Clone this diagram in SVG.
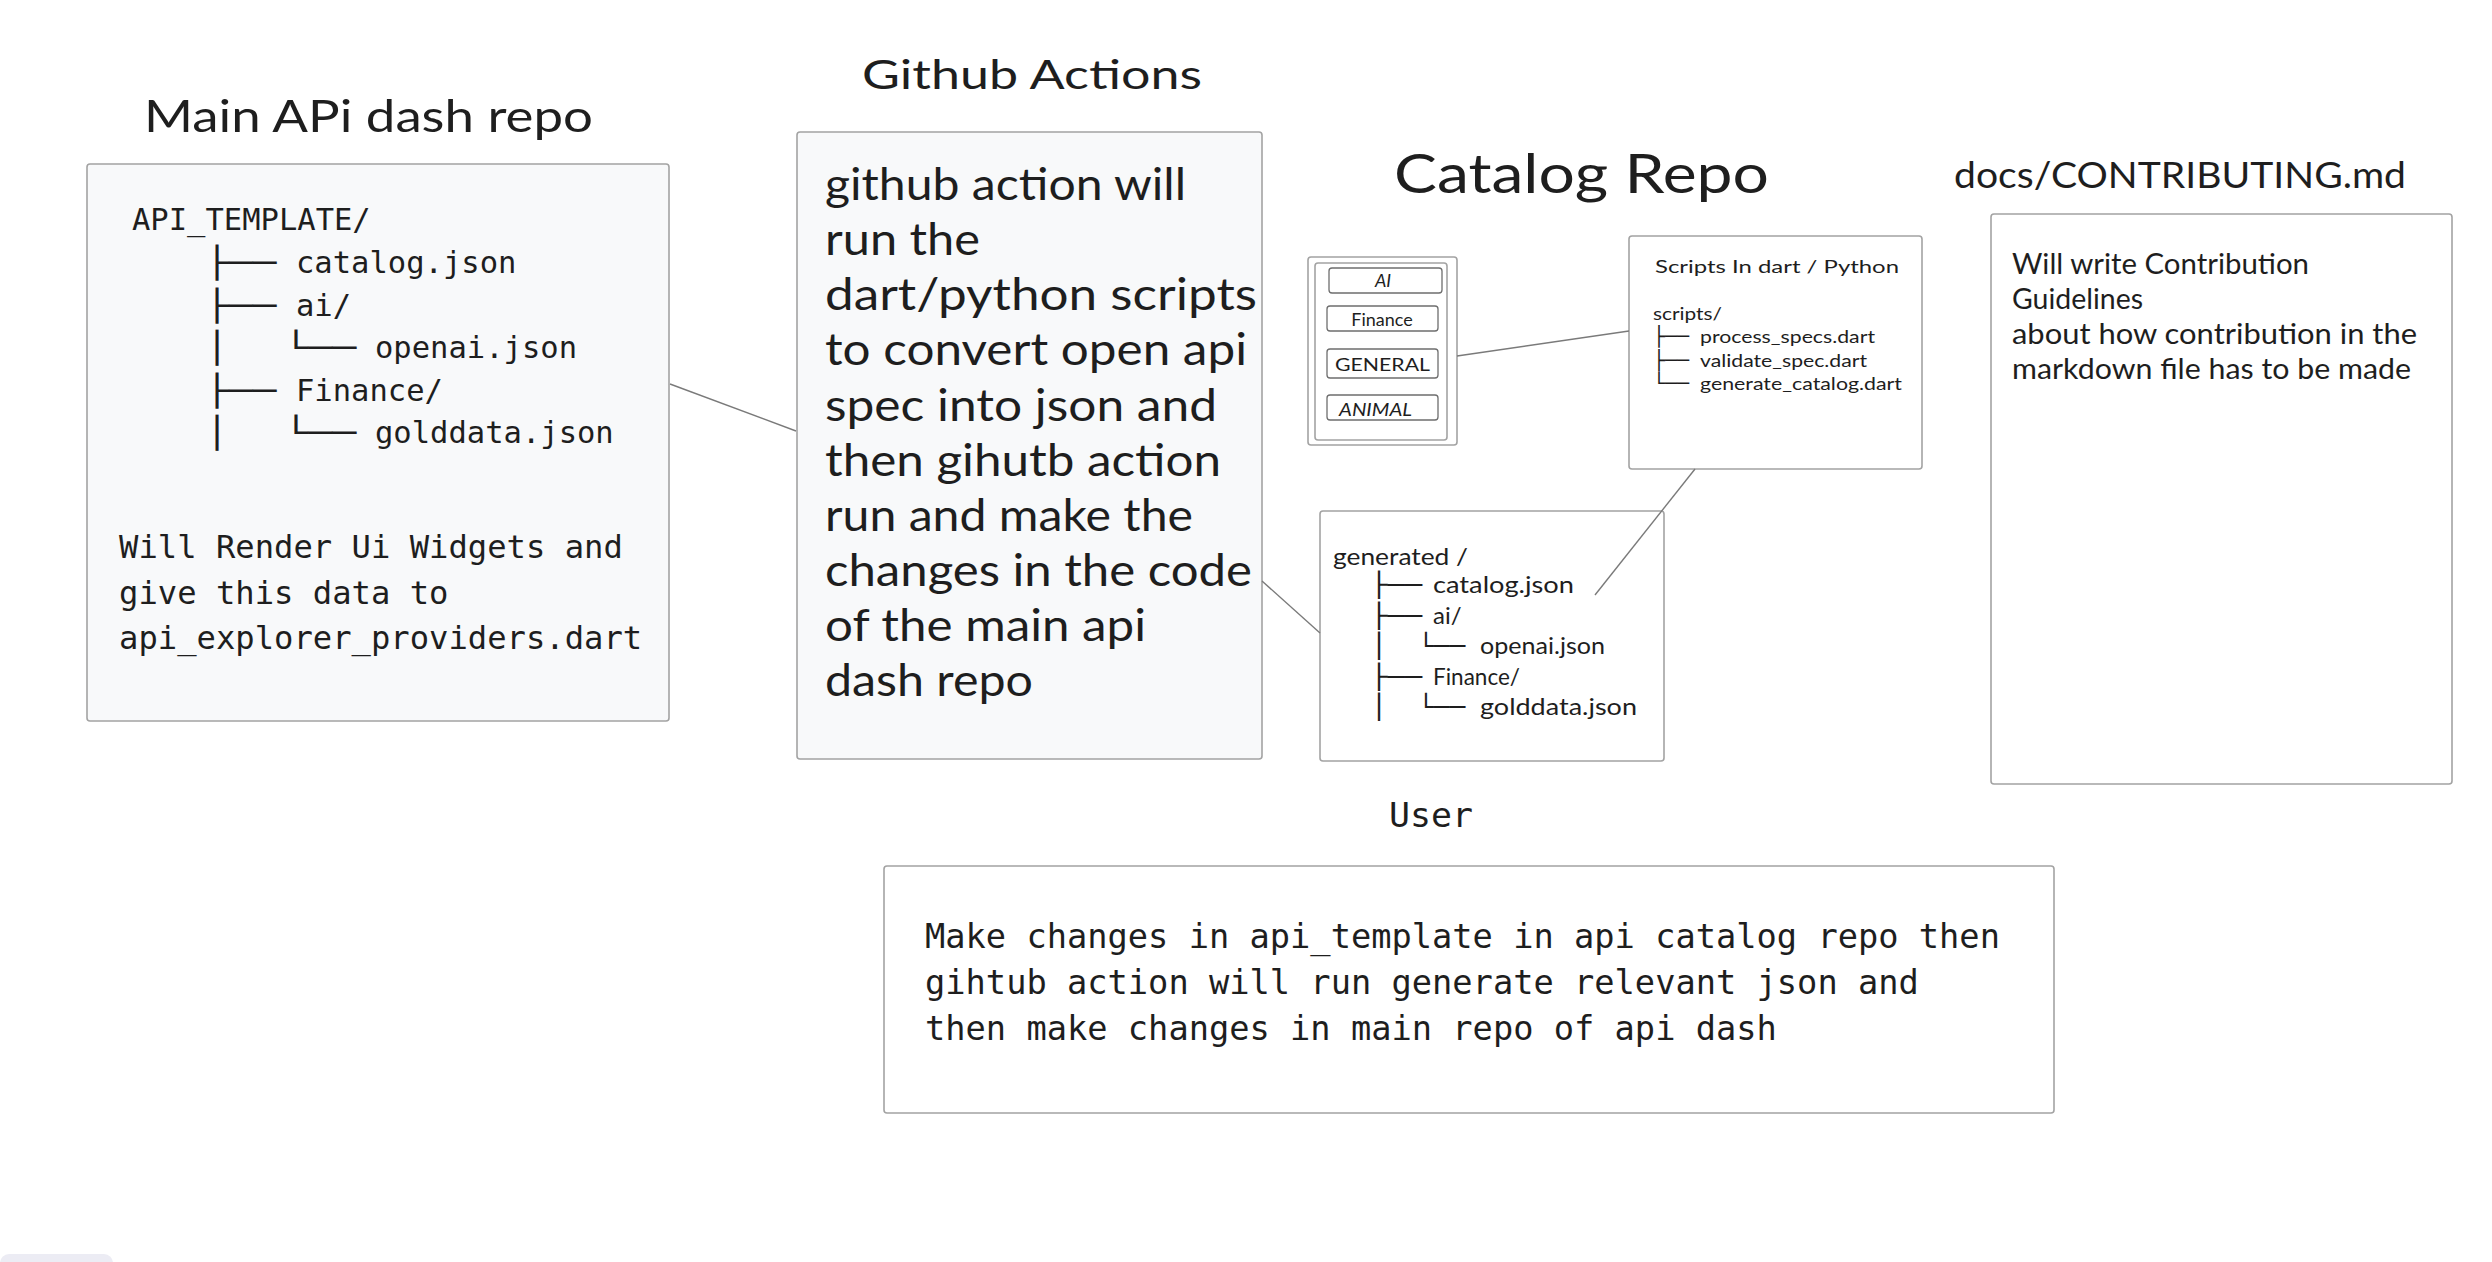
<svg xmlns="http://www.w3.org/2000/svg" width="2492" height="1262" viewBox="0 0 2492 1262">
<style>
.hand{font-family:Lato,"Open Sans","Liberation Sans",sans-serif;fill:#1e1e1e}
.mono{font-family:"DejaVu Sans Mono","Liberation Mono",monospace;fill:#1e1e1e}
.box{fill:#ffffff;stroke:#a3a3a3;stroke-width:1.6}
.gbox{fill:#f8f9fa;stroke:#a3a3a3;stroke-width:1.6}
.item{fill:#ffffff;stroke:#6e6e6e;stroke-width:1.3}
.conn{stroke:#7a7a7a;stroke-width:1.4;fill:none}
</style>
<rect width="2492" height="1262" fill="#ffffff"/>

<g id="main-repo">
<text class="hand" x="144" y="132" font-size="44" textLength="449" lengthAdjust="spacingAndGlyphs">Main APi dash repo</text>
<rect class="gbox" x="87" y="164" width="582" height="557" rx="3"/>
<text class="mono" x="132" y="230" font-size="30.5">API_TEMPLATE/</text>
<text class="mono" y="273" font-size="30.5"><tspan x="205.2" textLength="70.8" lengthAdjust="spacingAndGlyphs">├──</tspan><tspan x="296">catalog.json</tspan></text>
<text class="mono" y="315.5" font-size="30.5"><tspan x="205.2" textLength="70.8" lengthAdjust="spacingAndGlyphs">├──</tspan><tspan x="296">ai/</tspan></text>
<text class="mono" y="358" font-size="30.5"><tspan x="205.2" textLength="23.6" lengthAdjust="spacingAndGlyphs">│</tspan><tspan x="284" textLength="72" lengthAdjust="spacingAndGlyphs">└──</tspan><tspan x="375">openai.json</tspan></text>
<text class="mono" y="400.5" font-size="30.5"><tspan x="205.2" textLength="70.8" lengthAdjust="spacingAndGlyphs">├──</tspan><tspan x="296">Finance/</tspan></text>
<text class="mono" y="443" font-size="30.5"><tspan x="205.2" textLength="23.6" lengthAdjust="spacingAndGlyphs">│</tspan><tspan x="284" textLength="72" lengthAdjust="spacingAndGlyphs">└──</tspan><tspan x="375">golddata.json</tspan></text>
<text class="mono" x="119" y="558" font-size="32.2">Will Render Ui Widgets and</text>
<text class="mono" x="119" y="603.5" font-size="32.2">give this data to</text>
<text class="mono" x="119" y="649" font-size="32.2">api_explorer_providers.dart</text>
</g>

<g id="github-actions">
<text class="hand" x="862" y="89" font-size="40" textLength="340" lengthAdjust="spacingAndGlyphs">Github Actions</text>
<rect class="gbox" x="797" y="132" width="465" height="627" rx="3"/>
<g class="hand" font-size="44">
<text x="825" y="200" textLength="361" lengthAdjust="spacingAndGlyphs">github action will</text>
<text x="825" y="255" textLength="155" lengthAdjust="spacingAndGlyphs">run the</text>
<text x="825" y="310" textLength="432" lengthAdjust="spacingAndGlyphs">dart/python scripts</text>
<text x="825" y="365" textLength="422" lengthAdjust="spacingAndGlyphs">to convert open api</text>
<text x="825" y="420.5" textLength="392" lengthAdjust="spacingAndGlyphs">spec into json and</text>
<text x="825" y="475.5" textLength="396" lengthAdjust="spacingAndGlyphs">then gihutb action</text>
<text x="825" y="531" textLength="368" lengthAdjust="spacingAndGlyphs">run and make the</text>
<text x="825" y="586" textLength="427" lengthAdjust="spacingAndGlyphs">changes in the code</text>
<text x="825" y="641" textLength="321" lengthAdjust="spacingAndGlyphs">of the main api</text>
<text x="825" y="696" textLength="208" lengthAdjust="spacingAndGlyphs">dash repo</text>
</g>
</g>

<g id="catalog-title">
<text class="hand" x="1394" y="193" font-size="54" textLength="375" lengthAdjust="spacingAndGlyphs">Catalog Repo</text>
</g>

<g id="categories">
<rect class="box" x="1308" y="257" width="149" height="188" rx="3"/>
<rect class="box" x="1315" y="263" width="132" height="177" rx="3"/>
<rect class="item" x="1329" y="268" width="113" height="25" rx="3"/>
<text class="hand" x="1383" y="287" font-size="18" font-style="italic" text-anchor="middle">AI</text>
<rect class="item" x="1327" y="306" width="111" height="25" rx="3"/>
<text class="hand" x="1382" y="325.5" font-size="18" text-anchor="middle">Finance</text>
<rect class="item" x="1327" y="349" width="111" height="29" rx="3"/>
<text class="hand" x="1335" y="371" font-size="18" textLength="95" lengthAdjust="spacingAndGlyphs">GENERAL</text>
<rect class="item" x="1327" y="395" width="111" height="25" rx="3"/>
<text class="hand" x="1339" y="416" font-size="18" font-style="italic" textLength="73" lengthAdjust="spacingAndGlyphs">ANIMAL</text>
</g>

<g id="scripts">
<rect class="box" x="1629" y="236" width="293" height="233" rx="3"/>
<text class="hand" x="1655" y="273" font-size="18" textLength="244" lengthAdjust="spacingAndGlyphs">Scripts In dart / Python</text>
<text class="hand" x="1653" y="320" font-size="18" textLength="69" lengthAdjust="spacingAndGlyphs">scripts/</text>
<text class="mono" y="343" font-size="19"><tspan x="1653" textLength="36" lengthAdjust="spacingAndGlyphs">├──</tspan></text>
<text class="mono" y="366.5" font-size="19"><tspan x="1653" textLength="36" lengthAdjust="spacingAndGlyphs">├──</tspan></text>
<text class="mono" y="390" font-size="19"><tspan x="1653" textLength="36" lengthAdjust="spacingAndGlyphs">└──</tspan></text>
<text class="hand" x="1700" y="343" font-size="18" textLength="175" lengthAdjust="spacingAndGlyphs">process_specs.dart</text>
<text class="hand" x="1700" y="366.5" font-size="18" textLength="167" lengthAdjust="spacingAndGlyphs">validate_spec.dart</text>
<text class="hand" x="1700" y="390" font-size="18" textLength="202" lengthAdjust="spacingAndGlyphs">generate_catalog.dart</text>
</g>

<g id="generated">
<rect class="box" x="1320" y="511" width="344" height="250" rx="3"/>
<text class="hand" x="1333" y="565" font-size="24" textLength="135" lengthAdjust="spacingAndGlyphs">generated /</text>
<text class="mono" y="593" font-size="24"><tspan x="1370.4" textLength="51.6" lengthAdjust="spacingAndGlyphs">├──</tspan></text>
<text class="mono" y="623.5" font-size="24"><tspan x="1370.4" textLength="51.6" lengthAdjust="spacingAndGlyphs">├──</tspan></text>
<text class="mono" y="654" font-size="24"><tspan x="1370.4" textLength="17.2" lengthAdjust="spacingAndGlyphs">│</tspan><tspan x="1418.2" textLength="46.8" lengthAdjust="spacingAndGlyphs">└──</tspan></text>
<text class="mono" y="684.5" font-size="24"><tspan x="1370.4" textLength="51.6" lengthAdjust="spacingAndGlyphs">├──</tspan></text>
<text class="mono" y="715" font-size="24"><tspan x="1370.4" textLength="17.2" lengthAdjust="spacingAndGlyphs">│</tspan><tspan x="1418.2" textLength="46.8" lengthAdjust="spacingAndGlyphs">└──</tspan></text>
<text class="hand" x="1433" y="593" font-size="24" textLength="141" lengthAdjust="spacingAndGlyphs">catalog.json</text>
<text class="hand" x="1433" y="623.5" font-size="24">ai/</text>
<text class="hand" x="1480" y="654" font-size="24" textLength="125" lengthAdjust="spacingAndGlyphs">openai.json</text>
<text class="hand" x="1433" y="684.5" font-size="24" textLength="87" lengthAdjust="spacingAndGlyphs">Finance/</text>
<text class="hand" x="1480" y="715" font-size="24" textLength="157" lengthAdjust="spacingAndGlyphs">golddata.json</text>
</g>

<g id="contributing">
<text class="hand" x="1954" y="188" font-size="36" textLength="452" lengthAdjust="spacingAndGlyphs">docs/CONTRIBUTING.md</text>
<rect class="box" x="1991" y="214" width="461" height="570" rx="3"/>
<text class="hand" x="2012" y="274" font-size="28" textLength="297" lengthAdjust="spacingAndGlyphs">Will write Contribution</text>
<text class="hand" x="2012" y="309" font-size="28" textLength="131" lengthAdjust="spacingAndGlyphs">Guidelines</text>
<text class="hand" x="2012" y="344" font-size="28" textLength="405" lengthAdjust="spacingAndGlyphs">about how contribution in the</text>
<text class="hand" x="2012" y="379" font-size="28" textLength="399" lengthAdjust="spacingAndGlyphs">markdown file has to be made</text>
</g>

<g id="user">
<text class="mono" x="1389" y="827" font-size="34" textLength="84" lengthAdjust="spacingAndGlyphs">User</text>
<rect class="box" x="884" y="866" width="1170" height="247" rx="3"/>
<text class="mono" x="925" y="948" font-size="33.7">Make changes in api_template in api catalog repo then</text>
<text class="mono" x="925" y="994" font-size="33.7">gihtub action will run generate relevant json and</text>
<text class="mono" x="925" y="1040" font-size="33.7">then make changes in main repo of api dash</text>
</g>

<g id="connectors">
<line class="conn" x1="670" y1="384" x2="796" y2="431"/>
<line class="conn" x1="1262" y1="581" x2="1320" y2="633"/>
<line class="conn" x1="1457" y1="356" x2="1629" y2="331"/>
<line class="conn" x1="1695" y1="469" x2="1595" y2="595"/>
</g>

<rect x="0" y="1254" width="113" height="20" rx="9" fill="#ececf4"/>
</svg>
